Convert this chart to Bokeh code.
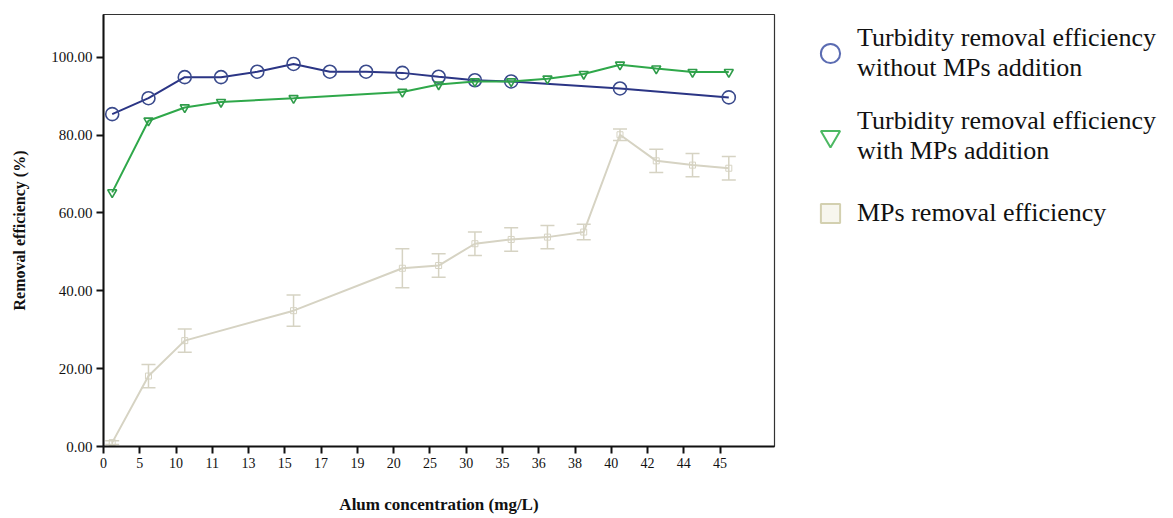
from bokeh.plotting import figure
from bokeh.models import (FixedTicker, Range1d, Legend, LegendItem, Whisker,
                          ColumnDataSource, NumeralTickFormatter)
from bokeh.embed import file_html
from bokeh.resources import INLINE

# ---------------- data ----------------
alum_labels = ["0", "5", "10", "11", "13", "15", "17", "19", "20", "25",
               "30", "35", "36", "38", "40", "42", "44", "45"]

blue_cats = ["0", "5", "10", "11", "13", "15", "17", "19", "20", "25",
             "30", "35", "40", "45"]
blue_vals = [85.4, 89.5, 94.9, 94.9, 96.3, 98.3, 96.3, 96.3, 96.0, 95.0,
             94.1, 93.8, 92.0, 89.7]

green_cats = ["0", "5", "10", "11", "15", "20", "25", "30", "35", "36",
              "38", "40", "42", "44", "45"]
green_vals = [65.3, 83.7, 87.1, 88.5, 89.5, 91.1, 93.0, 93.8, 93.8, 94.5,
              95.7, 98.1, 97.1, 96.2, 96.2]

mp_cats = ["0", "5", "10", "15", "20", "25", "30", "35", "36", "38",
           "40", "42", "44", "45"]
mp_vals = [1.0, 18.1, 27.2, 34.9, 45.8, 46.5, 52.1, 53.2, 53.8, 55.1,
           80.1, 73.4, 72.3, 71.5]
mp_err = [0.5, 3.0, 3.0, 4.0, 5.0, 3.0, 3.0, 3.0, 3.0, 2.0,
          1.5, 3.0, 3.0, 3.0]

y_ticks = [0, 20, 40, 60, 80, 100]

legend_labels = ["Turbidity removal efficiency\nwithout MPs addition",
                 "Turbidity removal efficiency\nwith MPs addition",
                 "MPs removal efficiency"]

# ---------------- styling ----------------
POINT_OFFSET = 0.24
BLUE_LINE = "#2b3585"
BLUE_MARK = "#3a4a8c"
GREEN_LINE = "#2fa84a"
GREEN_MARK = "#2f9c4a"
MP_LINE = "#d6d3c3"
SERIF = "Liberation Serif"
NAN = float("nan")


def xpos(cats):
    return [alum_labels.index(c) + POINT_OFFSET for c in cats]


p = figure(frame_width=671, frame_height=432,
           x_range=Range1d(0, 18.5), y_range=Range1d(0, 111),
           output_backend="svg", toolbar_location=None,
           min_border_left=103, min_border_top=14, min_border_right=390,
           min_border_bottom=10, background_fill_color="white",
           border_fill_color="white")

p.grid.visible = False
p.outline_line_color = "#333333"
p.outline_line_width = 1.2

# axes
p.xaxis.ticker = FixedTicker(ticks=list(range(len(alum_labels))))
p.xaxis.major_label_overrides = {i: lab for i, lab in enumerate(alum_labels)}
p.xaxis.minor_tick_line_color = None
p.yaxis.ticker = FixedTicker(ticks=y_ticks)
p.yaxis.formatter = NumeralTickFormatter(format="0.00")
p.yaxis.minor_tick_line_color = None
for ax in (p.xaxis, p.yaxis):
    ax.axis_line_width = 2
    ax.axis_line_color = "#111111"
    ax.major_tick_line_width = 2
    ax.major_tick_line_color = "#111111"
    ax.major_tick_out = 7
    ax.major_tick_in = 0
    ax.major_label_text_font = SERIF
    ax.major_label_text_color = "#111111"
    ax.axis_label_text_font = SERIF
    ax.axis_label_text_font_style = "bold"
    ax.axis_label_text_color = "#111111"
p.xaxis.major_label_text_font_size = "14px"
p.yaxis.major_label_text_font_size = "15px"
p.xaxis.axis_label = "Alum concentration (mg/L)"
p.yaxis.axis_label = "Removal efficiency (%)"
p.xaxis.axis_label_text_font_size = "17px"
p.yaxis.axis_label_text_font_size = "16px"
p.xaxis.axis_label_standoff = 24
p.yaxis.axis_label_standoff = 20
p.xaxis.major_label_standoff = 4
p.yaxis.major_label_standoff = 4

# MPs removal with error bars
mp_src = ColumnDataSource(dict(x=xpos(mp_cats), y=mp_vals,
                               lo=[v - e for v, e in zip(mp_vals, mp_err)],
                               hi=[v + e for v, e in zip(mp_vals, mp_err)]))
p.line("x", "y", source=mp_src, line_color=MP_LINE, line_width=2)
w = Whisker(base="x", lower="lo", upper="hi", source=mp_src,
            line_color=MP_LINE, line_width=1.5)
w.upper_head.size = 14
w.lower_head.size = 14
w.upper_head.line_color = MP_LINE
w.lower_head.line_color = MP_LINE
w.upper_head.line_width = 1.5
w.lower_head.line_width = 1.5
p.add_layout(w)
p.scatter("x", "y", source=mp_src, marker="square", size=6,
          line_color=MP_LINE, fill_color=None, line_width=1)

# Turbidity without MPs
b_src = ColumnDataSource(dict(x=xpos(blue_cats), y=blue_vals))
p.line("x", "y", source=b_src, line_color=BLUE_LINE, line_width=2)
p.scatter("x", "y", source=b_src, marker="circle", size=13,
          line_color=BLUE_MARK, fill_color=None, line_width=1.6)

# Turbidity with MPs
g_src = ColumnDataSource(dict(x=xpos(green_cats), y=green_vals))
p.line("x", "y", source=g_src, line_color=GREEN_LINE, line_width=2)
p.scatter("x", "y", source=g_src, marker="inverted_triangle", size=9,
          line_color=GREEN_MARK, fill_color=None, line_width=1.6)

# legend-only renderers (a single non-drawable NaN point each)
lb = p.scatter(x=[NAN], y=[NAN], marker="circle",
               size=20, line_color="#5b6cb2", fill_color=None, line_width=2)
lg = p.scatter(x=[NAN], y=[NAN], marker="inverted_triangle", size=22,
               line_color="#4cb862", fill_color=None, line_width=2)
lm = p.scatter(x=[NAN], y=[NAN], marker="square",
               size=20, line_color="#d3d0b0", fill_color="#f7f6ee",
               line_width=2)

legend = Legend(items=[LegendItem(label=legend_labels[0], renderers=[lb]),
                       LegendItem(label=legend_labels[1], renderers=[lg]),
                       LegendItem(label=legend_labels[2], renderers=[lm])],
                location=(32, 209))
legend.border_line_color = None
legend.background_fill_alpha = 0
legend.label_text_font = SERIF
legend.label_text_font_size = "26px"
legend.label_text_color = "#111111"
legend.glyph_width = 48
legend.glyph_height = 48
legend.label_standoff = 3
legend.spacing = 23
legend.padding = 0
legend.margin = 0
p.add_layout(legend, "right")

open("out.html", "w").write(file_html(p, INLINE))
